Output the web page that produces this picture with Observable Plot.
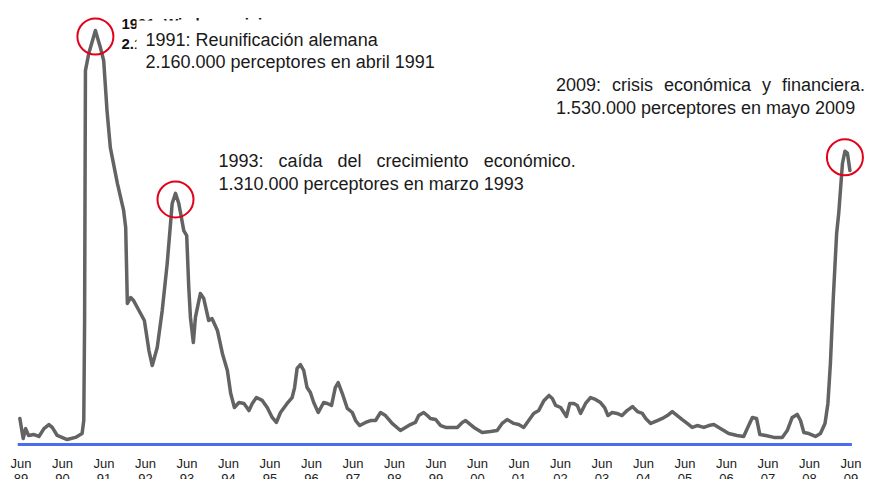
<!DOCTYPE html>
<html><head><meta charset="utf-8">
<script src="https://cdn.jsdelivr.net/npm/d3@7"></script>
<script src="https://cdn.jsdelivr.net/npm/@observablehq/plot@0.6"></script>
<style>
html,body{margin:0;padding:0;background:#fff;overflow:hidden}
</style></head><body><div id="chart"></div>
<script>
// Fecha (año decimal) y perceptores de Kurzarbeit (miles)
const fechas = [
1989.39,1989.47,1989.53,1989.60,1989.73,1989.85,1989.97,1990.09,1990.17,1990.29,
1990.53,1990.73,1990.89,1990.93,1990.95,1990.97,1991.05,1991.21,1991.33,1991.41,
1991.49,1991.57,1991.74,1991.89,1991.94,1991.98,1992.06,1992.13,1992.26,1992.39,
1992.50,1992.58,1992.70,1992.82,1992.94,1993.06,1993.14,1993.22,1993.34,1993.41,
1993.46,1993.50,1993.57,1993.62,1993.74,1993.82,1993.94,1994.02,1994.15,1994.27,
1994.39,1994.47,1994.56,1994.67,1994.79,1994.91,1994.99,1995.09,1995.23,1995.35,
1995.47,1995.57,1995.67,1995.83,1995.95,1996.01,1996.07,1996.15,1996.23,1996.31,
1996.39,1996.47,1996.58,1996.71,1996.80,1996.90,1996.99,1997.06,1997.16,1997.28,
1997.40,1997.48,1997.58,1997.72,1997.84,1997.96,1998.08,1998.20,1998.36,1998.56,
1998.68,1998.80,1998.92,1999.00,1999.12,1999.21,1999.28,1999.41,1999.53,1999.65,
1999.81,1999.93,2000.05,2000.13,2000.33,2000.53,2000.73,2000.89,2001.01,2001.13,
2001.29,2001.41,2001.53,2001.65,2001.77,2001.89,2002.02,2002.14,2002.22,2002.30,
2002.42,2002.56,2002.64,2002.74,2002.82,2002.90,2003.02,2003.14,2003.26,2003.38,
2003.48,2003.56,2003.66,2003.78,2003.90,2004.02,2004.15,2004.27,2004.39,2004.47,
2004.59,2004.75,2004.87,2004.99,2005.11,2005.23,2005.35,2005.47,2005.59,2005.71,
2005.87,2005.99,2006.11,2006.27,2006.47,2006.67,2006.83,2006.95,2007.04,2007.14,
2007.22,2007.36,2007.56,2007.76,2007.88,2008.00,2008.12,2008.20,2008.28,2008.40,
2008.56,2008.68,2008.79,2008.86,2008.92,2008.99,2009.07,2009.12,2009.21,2009.27,
2009.33,2009.39
];
const perceptores = [
136,31,83,47,52,42,83,104,89,47,
26,37,57,125,647,1951,2040,2160,2071,2003,
1742,1549,1362,1221,1132,736,767,751,699,647,
490,412,506,699,944,1257,1310,1257,1116,1090,
819,663,532,663,788,762,647,657,595,475,
386,266,193,219,214,177,214,245,230,193,
141,115,167,214,245,297,397,417,386,297,
271,219,167,219,214,204,297,323,266,188,
167,125,99,115,125,125,167,151,110,73,
89,104,115,151,167,151,136,130,99,89,
89,89,115,125,89,63,68,73,110,130,
110,104,89,125,162,177,230,256,240,204,
193,146,214,214,204,162,214,245,235,219,
193,151,167,162,151,177,198,172,162,136,
110,125,136,151,172,151,130,110,89,99,
89,99,104,83,57,47,42,99,141,136,
52,47,37,37,73,141,157,125,63,57,
42,57,110,214,423,767,1101,1205,1466,1530,
1520,1429
];
const tickYears = [1989,1990,1991,1992,1993,1994,1995,1996,1997,1998,1999,2000,2001,2002,2003,2004,2005,2006,2007,2008,2009];
const tickLabels = ["89","90","91","92","93","94","95","96","97","98","99","00","01","02","03","04","05","06","07","08","09"];
const peakDates = [1991.21, 1993.14, 2009.27];
const peakValues = [2160, 1310, 1530];
const deText = "1991: Wiedervereinigung\n2.160.000 Kurzarbeiter im April 1991";
const esLine1 = ["1991: Reunificación alemana", "1993: caída del crecimiento económico.", "2009: crisis económica y financiera."];
const esLine2 = ["2.160.000 perceptores en abril 1991", "1.310.000 perceptores en marzo 1993", "1.530.000 perceptores en mayo 2009"];

const serie = fechas.map((t, i) => ({t, v: perceptores[i]}));
const JUN = 5 / 12;
const px = i => peakDates[i];
const py = i => peakValues[i];
const txt = {fill: "#1a1a1a", fontSize: 18, textAnchor: "start", lineAnchor: "top"};

const chart = Plot.plot({
  width: 876, height: 479,
  marginLeft: 17.7, marginRight: 24.1, marginTop: 30, marginBottom: 35,
  style: {fontFamily: "'Liberation Sans', Arial, sans-serif", color: "#1a1a1a", background: "#fff", overflow: "visible"},
  x: {domain: [1989.35, 2009.45], label: null},
  y: {domain: [0, 2160], axis: null, label: null},
  marks: [
    Plot.axisX(tickYears.map(y => y + JUN), {
      tickSize: 0, tickPadding: 13, fontSize: 13, lineHeight: 1.15, color: "#222", label: null,
      tickFormat: d => "Jun\n" + tickLabels[tickYears.indexOf(Math.round(d - JUN))]
    }),
    Plot.ruleY([0], {stroke: "#4a6cf0", strokeWidth: 3}),
    Plot.line(serie, {x: "t", y: "v", stroke: "#636363", strokeWidth: 3.5, strokeLinejoin: "round"}),
    Plot.dot([0, 1, 2], {x: px, y: py, r: 18, stroke: "#e3001b", strokeWidth: 2, fill: "none", dy: 6}),
    Plot.text([0], {x: px, y: py, text: () => deText, dx: 26, dy: -15, fontWeight: "bold", fontSize: 15, lineHeight: 1.29, textAnchor: "start", lineAnchor: "top", fill: "#111"}),
    Plot.tip([0], {x: px, y: py, title: i => esLine1[i] + "\n" + esLine2[i], anchor: "top-left", pointerSize: 0,
      textPadding: 9, fill: "white", stroke: "none", pathFilter: "none", fontSize: 18, lineHeight: 1.19, lineWidth: 40, dx: 41, dy: -10}),
    Plot.text([1], {x: px, y: py, text: i => esLine1[i], dx: 43, dy: -39, ...txt}),
    Plot.text([1], {x: px, y: py, text: i => esLine2[i], dx: 43, dy: -16, ...txt}),
    Plot.text([2], {x: px, y: py, text: i => esLine1[i], dx: -289, dy: -73, ...txt}),
    Plot.text([2], {x: px, y: py, text: i => esLine2[i], dx: -289, dy: -50, ...txt})
  ]
});
document.getElementById("chart").appendChild(chart);
// justified first lines
d3.select(chart).selectAll("text").filter(function () { return this.textContent === esLine1[1]; }).style("word-spacing", "10px");
d3.select(chart).selectAll("text").filter(function () { return this.textContent === esLine1[2]; }).style("word-spacing", "6px");
</script></body></html>
